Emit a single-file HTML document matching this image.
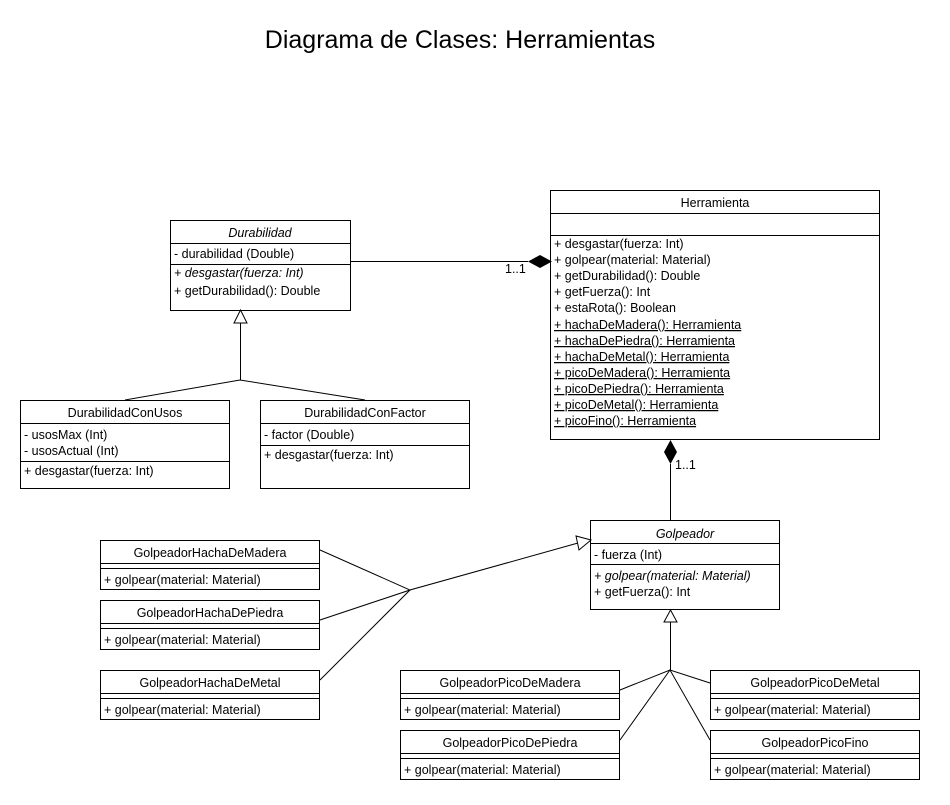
<!DOCTYPE html>
<html><head><meta charset="utf-8"><style>
body{margin:0;background:#fff}
svg text{font-family:"Liberation Sans",Arial,sans-serif;font-size:12.5px;fill:#000}
</style></head><body>
<svg width="950" height="800" viewBox="0 0 950 800" xmlns="http://www.w3.org/2000/svg">
<rect width="950" height="800" fill="#fff"/>
<text x="460" y="48" text-anchor="middle" style="font-size:25px">Diagrama de Clases: Herramientas</text>
<g fill="none" stroke="#000" stroke-width="1">
<rect x="170.5" y="220.5" width="180" height="90"/>
<line x1="170" y1="243.5" x2="350" y2="243.5"/>
<line x1="170" y1="264.5" x2="350" y2="264.5"/>
<rect x="550.5" y="190.5" width="329" height="249"/>
<line x1="550" y1="213.5" x2="880" y2="213.5"/>
<line x1="550" y1="235.5" x2="880" y2="235.5"/>
<rect x="20.5" y="400.5" width="209" height="88"/>
<line x1="20" y1="423.5" x2="230" y2="423.5"/>
<line x1="20" y1="461.5" x2="230" y2="461.5"/>
<rect x="260.5" y="400.5" width="209" height="88"/>
<line x1="260" y1="423.5" x2="470" y2="423.5"/>
<line x1="260" y1="445.5" x2="470" y2="445.5"/>
<rect x="590.5" y="520.5" width="189" height="89"/>
<line x1="590" y1="543.5" x2="780" y2="543.5"/>
<line x1="590" y1="564.5" x2="780" y2="564.5"/>
<rect x="100.5" y="540.5" width="219" height="49"/>
<line x1="100" y1="563.5" x2="320" y2="563.5"/><line x1="100" y1="568.5" x2="320" y2="568.5"/>
<rect x="100.5" y="600.5" width="219" height="49"/>
<line x1="100" y1="623.5" x2="320" y2="623.5"/><line x1="100" y1="628.5" x2="320" y2="628.5"/>
<rect x="100.5" y="670.5" width="219" height="49"/>
<line x1="100" y1="693.5" x2="320" y2="693.5"/><line x1="100" y1="698.5" x2="320" y2="698.5"/>
<rect x="400.5" y="670.5" width="219" height="49"/>
<line x1="400" y1="693.5" x2="620" y2="693.5"/><line x1="400" y1="698.5" x2="620" y2="698.5"/>
<rect x="400.5" y="730.5" width="219" height="49"/>
<line x1="400" y1="753.5" x2="620" y2="753.5"/><line x1="400" y1="758.5" x2="620" y2="758.5"/>
<rect x="710.5" y="670.5" width="209" height="49"/>
<line x1="710" y1="693.5" x2="920" y2="693.5"/><line x1="710" y1="698.5" x2="920" y2="698.5"/>
<rect x="710.5" y="730.5" width="209" height="49"/>
<line x1="710" y1="753.5" x2="920" y2="753.5"/><line x1="710" y1="758.5" x2="920" y2="758.5"/>
<line x1="350" y1="261.5" x2="528" y2="261.5"/>
<line x1="240.5" y1="323" x2="240.5" y2="380"/>
<polyline points="125,400 240,380 365,400"/>
<line x1="670.5" y1="464" x2="670.5" y2="520"/>
<line x1="670.5" y1="622" x2="670.5" y2="670"/>
<polyline points="620,690 670,670 710,683"/>
<polyline points="620,740 670,670 710,740"/>
<polyline points="320,550 410,590 320,620"/>
<polyline points="320,680 410,590 578,543"/>
</g>
<polygon points="528,261.5 540,255 552,261.5 540,268" fill="#000"/>
<polygon points="670.5,440 677,452 670.5,464 664,452" fill="#000"/>
<polygon points="240.5,310 247,323 234,323" fill="#fff" stroke="#000"/>
<polygon points="670.5,610 677,622 664,622" fill="#fff" stroke="#000"/>
<polygon points="591,540 576,536 579,550" fill="#fff" stroke="#000"/>
<text x="505" y="273">1..1</text>
<text x="675" y="469">1..1</text>
<text x="260" y="237" text-anchor="middle" font-style="italic">Durabilidad</text>
<text x="174" y="258">- durabilidad (Double)</text>
<text x="174" y="277" font-style="italic">+ desgastar(fuerza: Int)</text>
<text x="174" y="295">+ getDurabilidad(): Double</text>
<text x="715" y="207" text-anchor="middle">Herramienta</text>
<text x="554" y="248">+ desgastar(fuerza: Int)</text>
<text x="554" y="264">+ golpear(material: Material)</text>
<text x="554" y="280">+ getDurabilidad(): Double</text>
<text x="554" y="296">+ getFuerza(): Int</text>
<text x="554" y="312">+ estaRota(): Boolean</text>
<text x="554" y="329" text-decoration="underline">+ hachaDeMadera(): Herramienta</text>
<text x="554" y="345" text-decoration="underline">+ hachaDePiedra(): Herramienta</text>
<text x="554" y="361" text-decoration="underline">+ hachaDeMetal(): Herramienta</text>
<text x="554" y="377" text-decoration="underline">+ picoDeMadera(): Herramienta</text>
<text x="554" y="393" text-decoration="underline">+ picoDePiedra(): Herramienta</text>
<text x="554" y="409" text-decoration="underline">+ picoDeMetal(): Herramienta</text>
<text x="554" y="425" text-decoration="underline">+ picoFino(): Herramienta</text>
<text x="125" y="417" text-anchor="middle">DurabilidadConUsos</text>
<text x="24" y="439">- usosMax (Int)</text>
<text x="24" y="455">- usosActual (Int)</text>
<text x="24" y="475">+ desgastar(fuerza: Int)</text>
<text x="365" y="417" text-anchor="middle">DurabilidadConFactor</text>
<text x="264" y="439">- factor (Double)</text>
<text x="264" y="459">+ desgastar(fuerza: Int)</text>
<text x="685" y="538" text-anchor="middle" font-style="italic">Golpeador</text>
<text x="594" y="559">- fuerza (Int)</text>
<text x="594" y="580" font-style="italic">+ golpear(material: Material)</text>
<text x="594" y="596">+ getFuerza(): Int</text>
<text x="210" y="557" text-anchor="middle">GolpeadorHachaDeMadera</text>
<text x="104" y="584">+ golpear(material: Material)</text>
<text x="210" y="617" text-anchor="middle">GolpeadorHachaDePiedra</text>
<text x="104" y="644">+ golpear(material: Material)</text>
<text x="210" y="687" text-anchor="middle">GolpeadorHachaDeMetal</text>
<text x="104" y="714">+ golpear(material: Material)</text>
<text x="510" y="687" text-anchor="middle">GolpeadorPicoDeMadera</text>
<text x="404" y="714">+ golpear(material: Material)</text>
<text x="510" y="747" text-anchor="middle">GolpeadorPicoDePiedra</text>
<text x="404" y="774">+ golpear(material: Material)</text>
<text x="815" y="687" text-anchor="middle">GolpeadorPicoDeMetal</text>
<text x="714" y="714">+ golpear(material: Material)</text>
<text x="815" y="747" text-anchor="middle">GolpeadorPicoFino</text>
<text x="714" y="774">+ golpear(material: Material)</text>
</svg>
</body></html>
